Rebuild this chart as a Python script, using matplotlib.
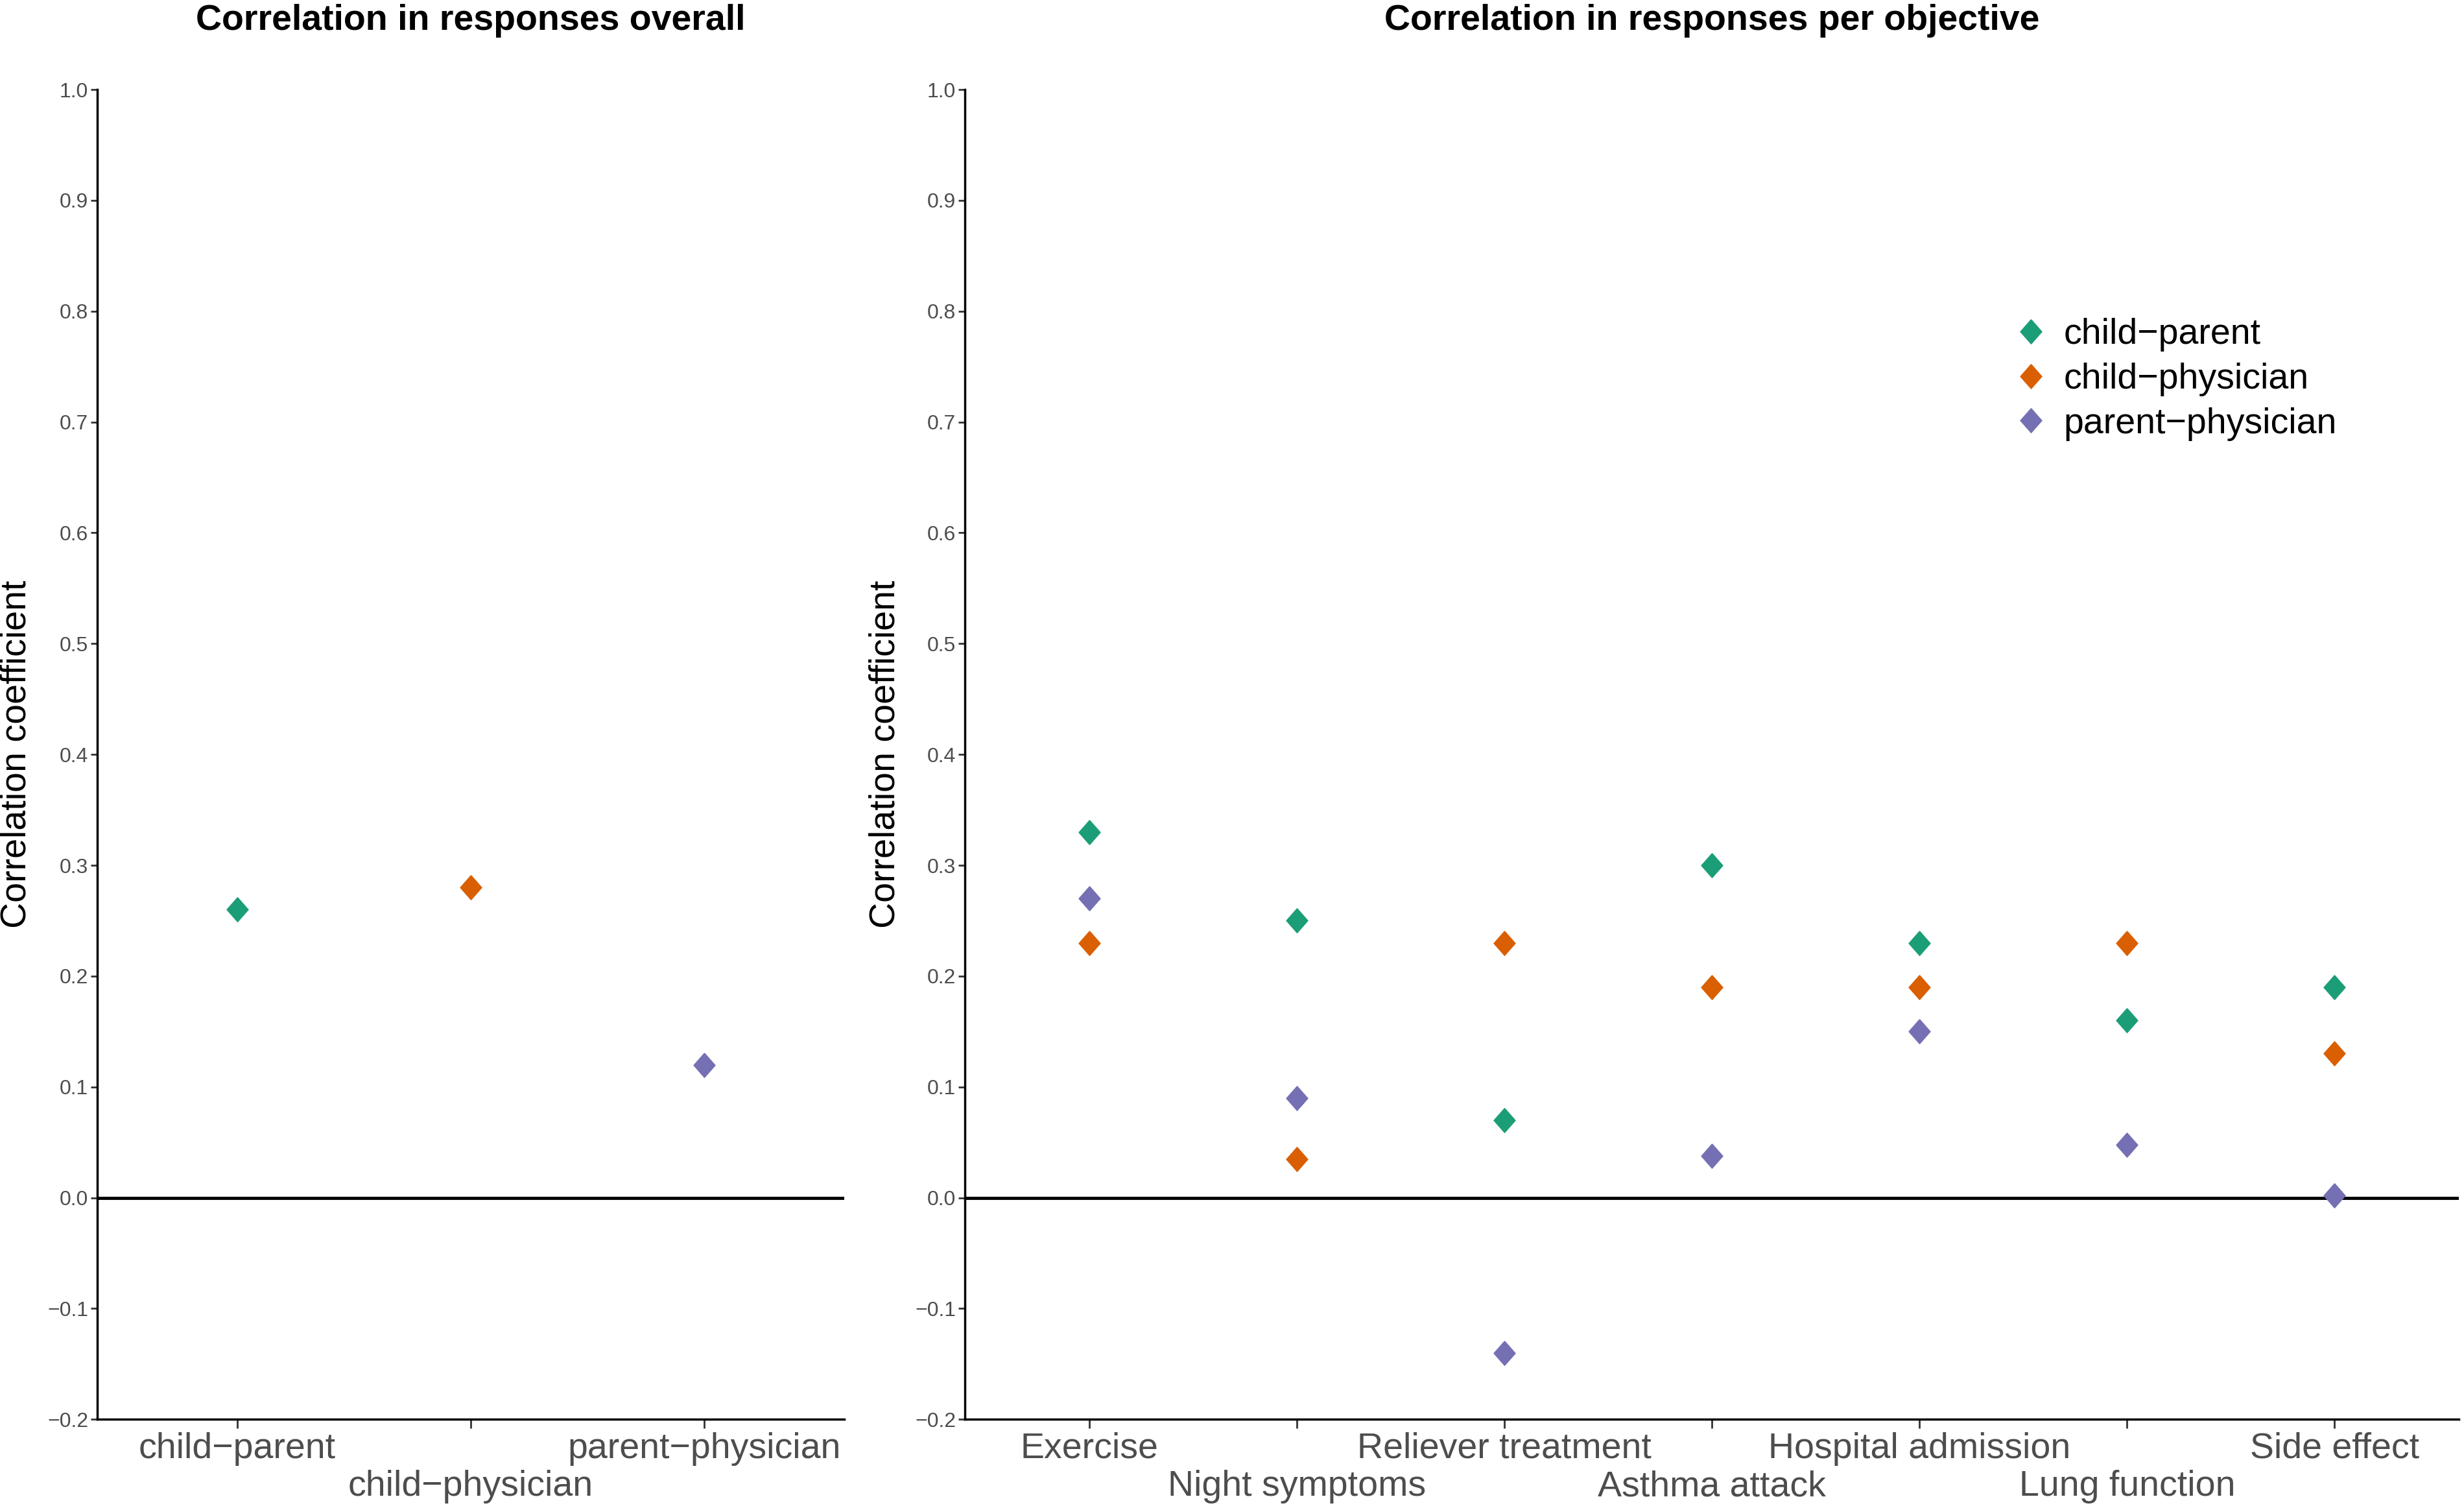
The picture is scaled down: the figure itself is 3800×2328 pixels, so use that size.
import matplotlib
matplotlib.use("Agg")
import matplotlib.pyplot as plt

plt.rcParams['font.family'] = ['Liberation Sans', 'DejaVu Sans']

pairs = ["child\u2212parent", "child\u2212physician", "parent\u2212physician"]
colors = ["#1B9E77", "#D95F02", "#7570B3"]

# overall correlation per pair
overall = [0.26, 0.28, 0.12]

objectives = ["Exercise", "Night symptoms", "Reliever treatment", "Asthma attack",
              "Hospital admission", "Lung function", "Side effect"]
child_parent = [0.33, 0.25, 0.07, 0.30, 0.23, 0.16, 0.19]
child_physician = [0.23, 0.035, 0.23, 0.19, 0.19, 0.23, 0.13]
parent_physician = [0.27, 0.09, -0.14, 0.038, 0.15, 0.048, 0.002]

yticks = [-0.2, -0.1, 0.0, 0.1, 0.2, 0.3, 0.4, 0.5, 0.6, 0.7, 0.8, 0.9, 1.0]

# ggplot-ish diamond, a bit taller than wide
diamond = [(0, 1), (0.88, 0), (0, -1), (-0.88, 0), (0, 1)]

fig = plt.figure(figsize=(38, 23.28), dpi=100)
ax1 = fig.add_axes([0.0395, 0.060, 0.303, 0.8807])
ax2 = fig.add_axes([0.3916, 0.060, 0.6064, 0.8807])

def style(ax, labels, title, xlab_x):
    n = len(labels)
    ax.set_xlim(0.4, n + 0.6)
    ax.set_ylim(-0.2, 1.0)
    ax.set_yticks(yticks)
    ax.set_yticklabels(["%.1f" % v if v >= 0 else "\u2212%.1f" % -v for v in yticks])
    ax.set_xticks(range(1, n + 1))
    ax.set_xticklabels(labels)
    for s in ["top", "right"]:
        ax.spines[s].set_visible(False)
    for s in ["left", "bottom"]:
        ax.spines[s].set_linewidth(2.5)
        ax.spines[s].set_color("black")
    ax.tick_params(axis="y", labelsize=23, labelcolor="#4D4D4D", length=7, width=2, pad=3,
                   color="#333333")
    ax.tick_params(axis="x", labelsize=40, labelcolor="#4D4D4D", length=10, width=2, pad=4,
                   color="#333333")
    # second row for every other label (dodged)
    for i, t in enumerate(ax.xaxis.get_major_ticks()):
        if i % 2 == 1:
            t.set_pad(46)
    ax.axhline(0, color="black", lw=3.5, zorder=1)
    ax.set_title(title, fontsize=40, fontweight="bold", pad=66)
    ax.set_ylabel("Correlation coefficient", fontsize=40)
    ax.yaxis.set_label_coords(xlab_x, 0.5)

style(ax1, pairs, "Correlation in responses overall", -0.086)
style(ax2, objectives, "Correlation in responses per objective", -0.042)

x1 = list(range(1, len(pairs) + 1))
for i in range(len(pairs)):
    ax1.plot(x1[i], overall[i], marker=diamond, ms=27, color=colors[i], ls="none", zorder=3)

x2 = list(range(1, len(objectives) + 1))
for vals, c, lab in zip([child_parent, child_physician, parent_physician], colors, pairs):
    ax2.plot(x2, vals, marker=diamond, ms=27, color=c, ls="none", label=lab, zorder=3)

ax2.legend(loc="center left", bbox_to_anchor=(0.687, 0.782), frameon=False, fontsize=40,
           labelspacing=0.3, handletextpad=0.3, handlelength=1.2, borderpad=0)

fig.savefig("out.png", dpi=100, facecolor="white")
